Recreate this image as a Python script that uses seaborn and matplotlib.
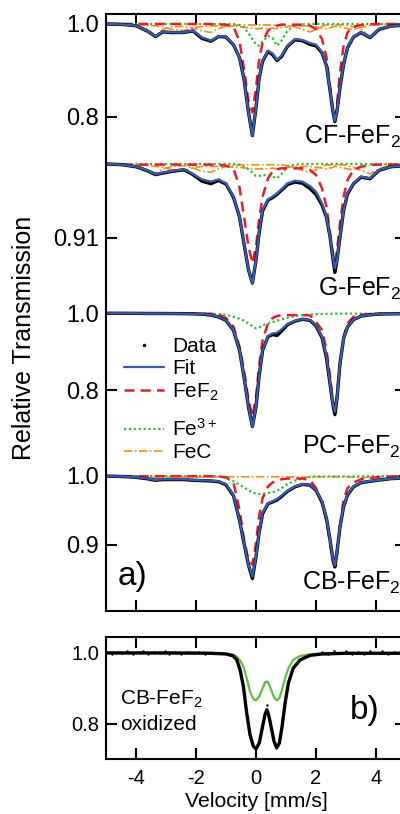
"""Stacked Moessbauer spectra of FeF2 samples (a) and oxidized CB-FeF2 (b)."""
import numpy as np
import pandas as pd
import matplotlib
matplotlib.use('Agg')
import matplotlib.pyplot as plt
from matplotlib.lines import Line2D
import seaborn as sns

# velocity grid used for every trace in panel a) [mm/s]
V = [-5.0, -4.5, -4.0, -3.6, -3.35, -3.1, -2.8, -2.4, -2.1, -1.8, -1.5, -1.25, -1.0,
     -0.75, -0.55, -0.4, -0.25, -0.12, 0.0, 0.1, 0.22, 0.4, 0.55, 0.7, 0.85, 1.05,
     1.3, 1.55, 1.8, 2.0, 2.2, 2.35, 2.47, 2.56, 2.63, 2.7, 2.8, 2.92, 3.05, 3.25,
     3.5, 3.8, 4.1, 4.5, 5.0]

# ---- CF-FeF2
CF_FIT = [1.0, 0.9993, 0.9964, 0.9842, 0.9735, 0.9835, 0.9821, 0.9821, 0.9857, 0.9713,
          0.9642, 0.9735, 0.9728, 0.9556, 0.9283, 0.8817, 0.8100, 0.7598, 0.8208, 0.8817,
          0.9212, 0.9427, 0.9370, 0.9226, 0.9319, 0.9534, 0.9677, 0.9656, 0.9591, 0.9556,
          0.9391, 0.9104, 0.8566, 0.8136, 0.7920, 0.8136, 0.8638, 0.9140, 0.9498, 0.9728,
          0.9821, 0.9713, 0.9892, 0.9957, 0.9978]
CF_DATA = [1.0, 0.9993, 0.9962, 0.9840, 0.9730, 0.9830, 0.9815, 0.9818, 0.9850, 0.9690,
           0.9630, 0.9730, 0.9720, 0.9550, 0.9280, 0.8810, 0.8100, 0.7600, 0.8200, 0.8810,
           0.9200, 0.9410, 0.9340, 0.9215, 0.9300, 0.9520, 0.9660, 0.9640, 0.9560, 0.9530,
           0.9380, 0.9100, 0.8560, 0.8130, 0.7900, 0.8130, 0.8630, 0.9130, 0.9490, 0.9720,
           0.9815, 0.9705, 0.9885, 0.9955, 0.9978]
CF_FEF2 = [1.0, 1.0, 1.0, 1.0, 1.0, 1.0, 1.0, 1.0, 1.0, 1.0, 1.0, 0.9993, 0.9986,
           0.9943, 0.9627, 0.9032, 0.8337, 0.8100, 0.8624, 0.9212, 0.9606, 0.9857, 0.9928,
           0.9964, 0.9986, 0.9986, 0.9986, 0.9986, 0.9964, 0.9892, 0.9677, 0.9283, 0.8638,
           0.8172, 0.7993, 0.8280, 0.8961, 0.9534, 0.9821, 0.9943, 0.9978, 0.9993, 1.0,
           1.0, 1.0]
CF_FE3 = [1.0, 1.0, 1.0, 1.0, 1.0, 1.0, 1.0, 1.0, 1.0, 1.0, 1.0, 1.0, 1.0, 1.0,
          0.9978, 0.9928, 0.9800, 0.9677, 0.9556, 0.9534, 0.9627, 0.9742, 0.9699, 0.9534,
          0.9642, 0.9857, 0.9957, 0.9993, 1.0, 1.0, 1.0, 1.0, 1.0, 1.0, 1.0, 1.0, 1.0,
          1.0, 1.0, 1.0, 1.0, 1.0, 1.0, 1.0, 1.0]
CF_FEC1 = [1.0, 0.999, 0.997, 0.988, 0.974, 0.989, 0.994, 0.995, 0.991, 0.985, 0.982,
           0.990, 0.995, 0.997, 0.998, 0.998, 0.998, 0.998, 0.998, 0.998, 0.998, 0.998,
           0.998, 0.998, 0.998, 0.997, 0.994, 0.988, 0.983, 0.988, 0.995, 0.998, 0.998,
           0.998, 0.998, 0.998, 0.998, 0.998, 0.997, 0.994, 0.988, 0.973, 0.990, 0.998, 1.0]
CF_FEC2 = [1.0, 1.0, 0.999, 0.997, 0.996, 0.994, 0.988, 0.986, 0.992, 0.995, 0.996,
           0.996, 0.996, 0.995, 0.994, 0.993, 0.992, 0.991, 0.990, 0.990, 0.991, 0.990,
           0.991, 0.990, 0.992, 0.994, 0.996, 0.996, 0.995, 0.994, 0.991, 0.990, 0.992,
           0.994, 0.995, 0.995, 0.994, 0.992, 0.990, 0.988, 0.993, 0.997, 0.999, 1.0, 1.0]

# ---- G-FeF2
G_FIT = [1.0, 0.9992, 0.9968, 0.9919, 0.9874, 0.9895, 0.9915, 0.9935, 0.9878, 0.9813,
         0.9785, 0.9813, 0.9765, 0.9602, 0.9359, 0.9035, 0.8711, 0.8548, 0.8832, 0.9157,
         0.9440, 0.9570, 0.9602, 0.9643, 0.9692, 0.9765, 0.9797, 0.9785, 0.9732, 0.9663,
         0.9521, 0.9359, 0.9116, 0.8872, 0.8730, 0.8832, 0.9116, 0.9440, 0.9643, 0.9765,
         0.9846, 0.9826, 0.9927, 0.9968, 0.9980]
G_DATA = [1.0, 0.9992, 0.9966, 0.9915, 0.9870, 0.9890, 0.9910, 0.9930, 0.9870, 0.9790,
          0.9760, 0.9800, 0.9755, 0.9595, 0.9355, 0.9030, 0.8710, 0.8550, 0.8830, 0.9150,
          0.9430, 0.9560, 0.9590, 0.9630, 0.9680, 0.9750, 0.9780, 0.9765, 0.9700, 0.9630,
          0.9500, 0.9350, 0.9110, 0.8860, 0.8680, 0.8830, 0.9110, 0.9435, 0.9635, 0.9760,
          0.9840, 0.9820, 0.9922, 0.9966, 0.9980]
G_FEF2 = [1.0, 0.9992, 0.9992, 0.9992, 0.9992, 0.9992, 0.9992, 0.9992, 0.9992, 0.9992,
          0.9992, 0.9988, 0.9980, 0.9947, 0.9716, 0.9359, 0.8994, 0.8791, 0.8994, 0.9319,
          0.9602, 0.9825, 0.9907, 0.9935, 0.9947, 0.9947, 0.9947, 0.9947, 0.9927, 0.9866,
          0.9704, 0.9480, 0.9157, 0.8913, 0.8811, 0.8953, 0.9278, 0.9602, 0.9805, 0.9927,
          0.9968, 0.9988, 0.9992, 0.9992, 1.0]
G_FE3 = [1.0, 1.0, 1.0, 1.0, 1.0, 1.0, 1.0, 1.0, 1.0, 1.0, 1.0, 1.0, 1.0, 1.0,
         0.9992, 0.9968, 0.9935, 0.9895, 0.9854, 0.9854, 0.9866, 0.9862, 0.9846, 0.9826,
         0.9878, 0.9968, 0.9992, 1.0, 1.0, 1.0, 1.0, 1.0, 1.0, 1.0, 1.0, 1.0, 1.0, 1.0,
         1.0, 1.0, 1.0, 1.0, 1.0, 1.0, 1.0]
G_FEC1 = [1.0, 0.9995, 0.998, 0.993, 0.989, 0.994, 0.997, 0.998, 0.995, 0.991, 0.990,
          0.994, 0.997, 0.998, 0.999, 0.999, 0.999, 0.999, 0.999, 0.999, 0.999, 0.999,
          0.999, 0.999, 0.999, 0.998, 0.996, 0.992, 0.990, 0.993, 0.997, 0.999, 0.999,
          0.999, 0.999, 0.999, 0.999, 0.999, 0.998, 0.996, 0.992, 0.988, 0.994, 0.999, 1.0]
G_FEC2 = [1.0, 1.0, 0.9995, 0.998, 0.997, 0.996, 0.993, 0.992, 0.995, 0.997, 0.997,
          0.997, 0.997, 0.996, 0.996, 0.995, 0.995, 0.994, 0.994, 0.994, 0.994, 0.994,
          0.995, 0.994, 0.995, 0.996, 0.997, 0.997, 0.997, 0.996, 0.995, 0.994, 0.995,
          0.996, 0.997, 0.997, 0.996, 0.995, 0.994, 0.993, 0.996, 0.998, 0.999, 1.0, 1.0]

# ---- PC-FeF2
PC_FIT = [0.9995, 0.9995, 0.9993, 0.9990, 0.9990, 0.9990, 0.9988, 0.9985, 0.9980, 0.9974,
          0.9948, 0.9905, 0.9818, 0.9558, 0.9039, 0.8346, 0.7567, 0.7047, 0.7567, 0.8346,
          0.9039, 0.9403, 0.9472, 0.9489, 0.9576, 0.9714, 0.9801, 0.9844, 0.9818, 0.9688,
          0.9385, 0.8866, 0.8173, 0.7653, 0.7437, 0.7784, 0.8693, 0.9342, 0.9645, 0.9835,
          0.9922, 0.9957, 0.9974, 0.9980, 0.9985]
PC_DATA = [0.9995, 0.9995, 0.9993, 0.9990, 0.9990, 0.9990, 0.9988, 0.9985, 0.9980, 0.9972,
           0.9945, 0.9900, 0.9810, 0.9550, 0.9035, 0.8340, 0.7560, 0.7050, 0.7560, 0.8340,
           0.9030, 0.9390, 0.9440, 0.9420, 0.9530, 0.9700, 0.9790, 0.9840, 0.9810, 0.9670,
           0.9360, 0.8830, 0.8150, 0.7640, 0.7360, 0.7780, 0.8690, 0.9340, 0.9640, 0.9830,
           0.9920, 0.9955, 0.9974, 0.9980, 0.9985]
PC_FEF2 = [0.9995, 0.9995, 0.9995, 0.9995, 0.9995, 0.9995, 0.9995, 0.9995, 0.9990, 0.9985,
           0.9980, 0.9974, 0.9870, 0.9645, 0.9126, 0.8520, 0.7740, 0.7307, 0.7827, 0.8606,
           0.9299, 0.9732, 0.9870, 0.9922, 0.9948, 0.9948, 0.9948, 0.9948, 0.9940, 0.9775,
           0.9558, 0.9039, 0.8346, 0.7740, 0.7480, 0.7827, 0.8693, 0.9385, 0.9732, 0.9905,
           0.9957, 0.9970, 0.9980, 0.9985, 0.9990]
PC_FE3 = [0.9995, 0.9995, 0.9995, 0.9995, 0.9995, 0.9995, 0.9995, 0.9995, 0.9990, 0.9985,
          0.9980, 0.9974, 0.9957, 0.9905, 0.9853, 0.9801, 0.9730, 0.9662, 0.9602, 0.9620,
          0.9680, 0.9730, 0.9766, 0.9801, 0.9835, 0.9879, 0.9922, 0.9948, 0.9965, 0.9970,
          0.9975, 0.9980, 0.9980, 0.9985, 0.9985, 0.9985, 0.9985, 0.9985, 0.9985, 0.9985,
          0.9985, 0.9985, 0.9990, 0.9990, 0.9990]

# ---- CB-FeF2
CB_FIT = [0.9995, 0.9990, 0.9980, 0.9960, 0.9940, 0.9950, 0.9950, 0.9950, 0.9940, 0.9935,
          0.9930, 0.9920, 0.9880, 0.9720, 0.9360, 0.9024, 0.8710, 0.8541, 0.8831, 0.9169,
          0.9459, 0.9604, 0.9628, 0.9662, 0.9710, 0.9783, 0.9845, 0.9879, 0.9870, 0.9797,
          0.9628, 0.9386, 0.9072, 0.8807, 0.8696, 0.8903, 0.9266, 0.9556, 0.9725, 0.9845,
          0.9903, 0.9923, 0.9940, 0.9960, 0.9970]
CB_DATA = [0.9995, 0.9990, 0.9978, 0.9955, 0.9935, 0.9945, 0.9945, 0.9945, 0.9935, 0.9930,
           0.9925, 0.9915, 0.9870, 0.9710, 0.9355, 0.9020, 0.8705, 0.8510, 0.8825, 0.9165,
           0.9450, 0.9595, 0.9620, 0.9650, 0.9700, 0.9775, 0.9840, 0.9875, 0.9865, 0.9790,
           0.9620, 0.9380, 0.9065, 0.8800, 0.8680, 0.8900, 0.9260, 0.9550, 0.9720, 0.9840,
           0.9900, 0.9920, 0.9938, 0.9958, 0.9970]
CB_FEF2 = [0.9995, 0.9995, 0.9995, 0.9995, 0.9995, 0.9995, 0.9995, 0.9995, 0.9995, 0.9995,
           0.9995, 0.9990, 0.9980, 0.9900, 0.9507, 0.9072, 0.8783, 0.8710, 0.9024, 0.9410,
           0.9676, 0.9845, 0.9903, 0.9928, 0.9950, 0.9960, 0.9960, 0.9960, 0.9940, 0.9821,
           0.9604, 0.9338, 0.9024, 0.8759, 0.8676, 0.8855, 0.9266, 0.9650, 0.9821, 0.9903,
           0.9950, 0.9970, 0.9980, 0.9990, 0.9995]
CB_FE3 = [0.9995, 0.9995, 0.9995, 0.9995, 0.9995, 0.9995, 0.9995, 0.9995, 0.9995, 0.9995,
          0.9995, 0.9995, 0.9970, 0.9920, 0.9870, 0.9830, 0.9790, 0.9760, 0.9740, 0.9735,
          0.9740, 0.9750, 0.9760, 0.9780, 0.9820, 0.9880, 0.9930, 0.9960, 0.9985, 0.9990,
          0.9990, 0.9990, 0.9990, 0.9990, 0.9990, 0.9990, 0.9990, 0.9990, 0.9990, 0.9990,
          0.9990, 0.9995, 0.9995, 0.9995, 0.9995]
CB_FEC = [0.9995, 0.9990, 0.9985, 0.9980, 0.9975, 0.9980, 0.9985, 0.9985, 0.9980, 0.9980,
          0.9980, 0.9985, 0.9985, 0.9985, 0.9985, 0.9985, 0.9985, 0.9985, 0.9985, 0.9985,
          0.9985, 0.9985, 0.9985, 0.9985, 0.9985, 0.9985, 0.9985, 0.9980, 0.9980, 0.9985,
          0.9985, 0.9985, 0.9985, 0.9985, 0.9985, 0.9985, 0.9985, 0.9985, 0.9985, 0.9980,
          0.9980, 0.9975, 0.9985, 0.9990, 0.9995]

# ---- panel b) oxidized CB-FeF2
VB = [-5.0, -4.0, -3.0, -2.0, -1.5, -1.0, -0.76, -0.64, -0.53, -0.42, -0.31, -0.2, -0.09,
      0.0, 0.11, 0.22, 0.3, 0.36, 0.42, 0.5, 0.6, 0.69, 0.78, 0.87, 0.97, 1.08, 1.24,
      1.47, 1.8, 2.2, 3.0, 4.0, 5.0]
B_FIT = [1.0, 1.0, 1.0, 0.9995, 0.999, 0.997, 0.9915, 0.9803, 0.9521, 0.9052, 0.830,
         0.769, 0.7361, 0.7286, 0.7455, 0.7925, 0.8254, 0.8394, 0.8254, 0.7925, 0.7502,
         0.7315, 0.7455, 0.7925, 0.8582, 0.9146, 0.9568, 0.9803, 0.993, 0.997, 0.999,
         0.999, 0.999]
B_OX = [0.999, 0.999, 0.999, 0.999, 0.999, 0.998, 0.995, 0.9897, 0.9784, 0.9615, 0.9286,
        0.8911, 0.8695, 0.8657, 0.8770, 0.9005, 0.9164, 0.9192, 0.9146, 0.8970, 0.8751,
        0.8657, 0.8723, 0.8960, 0.9286, 0.9568, 0.9803, 0.9915, 0.996, 0.998, 0.998,
        0.998, 0.998]
B_DATA_V = [-4.95, -4.8, -4.6, -4.45, -4.3, -4.1, -3.9, -3.75, -3.6, -3.4, -3.2, -3.05,
            -2.9, -2.7, -2.5, -2.3, -2.1, -1.9, -1.7, 0.36, 2.2, 2.4, 2.6, 2.8, 3.0, 3.2,
            3.4, 3.6, 3.8, 4.0, 4.2, 4.4, 4.6, 4.8]
B_DATA = [1.002, 0.998, 1.003, 0.999, 1.004, 0.997, 1.002, 1.005, 0.998, 1.003, 0.999,
          1.004, 0.997, 1.002, 0.998, 1.003, 0.999, 1.002, 0.998, 0.852, 1.003, 0.997,
          1.004, 0.999, 1.005, 0.998, 1.003, 0.997, 1.004, 1.000, 1.005, 0.998, 1.003, 1.001]

PANELS = [
    ('CF', CF_DATA, CF_FIT, CF_FEF2, CF_FE3, [CF_FEC1, CF_FEC2]),
    ('G', G_DATA, G_FIT, G_FEF2, G_FE3, [G_FEC1, G_FEC2]),
    ('PC', PC_DATA, PC_FIT, PC_FEF2, PC_FE3, []),
    ('CB', CB_DATA, CB_FIT, CB_FEF2, CB_FE3, [CB_FEC]),
]
YLIMS = [(0.729, 1.0215), (0.8345, 1.017), (0.613, 1.034), (0.804, 1.020)]
YTICKS = [[0.8, 1.0], [0.91], [0.8, 1.0], [0.9, 1.0]]
YTICKLABELS = [['0.8', '1.0'], ['0.91'], ['0.8', '1.0'], ['0.9', '1.0']]

BLUE = '#3a5bb4'
RED = '#e0202c'
GREEN = '#33bb33'
ORANGE = '#ff8a1e'
GREEN_B = '#66bb44'
LS_FEF2 = (0, (4, 2.5))
LS_FE3 = (0, (1, 1.2))
LS_FEC = (0, (5, 1.5, 1, 1.5))

sns.set_theme(style='ticks')
plt.rcParams['font.family'] = ['Liberation Sans', 'DejaVu Sans']
plt.rcParams['mathtext.default'] = 'regular'
plt.rcParams['axes.linewidth'] = 1.5
plt.rcParams['axes.unicode_minus'] = False
for key in ['text.color', 'axes.edgecolor', 'axes.labelcolor', 'xtick.color', 'ytick.color']:
    plt.rcParams[key] = 'black'

W, H = 400, 814
fig = plt.figure(figsize=(W / 100, H / 100), dpi=100)
left, width = 106 / W, 300 / W
bounds = [(14, 150), (150, 300), (300, 462), (462, 611)]

axes = []
for i, (top, bot) in enumerate(bounds):
    ax = fig.add_axes([left, 1 - bot / H, width, (bot - top) / H])
    axes.append(ax)
    name, data, fit, fef2, fe3, fecs = PANELS[i]
    df = pd.DataFrame({'v': V, 'data': data, 'fit': fit, 'fef2': fef2, 'fe3': fe3})
    for fec in fecs:
        sns.lineplot(x=V, y=fec, ax=ax, color=ORANGE, lw=1.2, linestyle=LS_FEC)
    sns.lineplot(data=df, x='v', y='fe3', ax=ax, color=GREEN, lw=1.6, linestyle=LS_FE3)
    sns.lineplot(data=df, x='v', y='fef2', ax=ax, color=RED, lw=1.8, linestyle=LS_FEF2)
    sns.lineplot(data=df, x='v', y='data', ax=ax, color='black', lw=2.4)
    sns.lineplot(data=df, x='v', y='fit', ax=ax, color=BLUE, lw=1.6)
    ax.set_xlim(-5, 5)
    ax.set_ylim(*YLIMS[i])
    ax.set_xticks([-4, -2, 0, 2, 4])
    ax.set_yticks(YTICKS[i])
    ax.set_yticklabels(YTICKLABELS[i])
    ax.set_xlabel('')
    ax.set_ylabel('')
    ax.tick_params(direction='in', length=8, width=1.5, labelsize=17, pad=5,
                   left=True, right=True, top=(i == 0), bottom=(i == 3),
                   labelbottom=False)
    if i > 0:
        ax.spines['top'].set_visible(False)
    if i < 3:
        ax.spines['bottom'].set_visible(False)
    ax.patch.set_alpha(0)

# sample names
for name, yc in [('CF', 137), ('G', 289), ('PC', 447), ('CB', 583)]:
    fig.text(401 / W, 1 - yc / H, f'{name}-FeF$_2$', ha='right', va='center', fontsize=18)

# legend inside PC panel, in two blocks like the original
leg_kw = dict(frameon=False, fontsize=15, handlelength=1.9, handletextpad=0.4,
              labelspacing=0.15, borderpad=0, borderaxespad=0, loc='upper left')
h1 = [Line2D([], [], color='black', marker='.', ms=3, lw=0),
      Line2D([], [], color=BLUE, lw=1.6),
      Line2D([], [], color=RED, lw=1.8, linestyle=LS_FEF2)]
h2 = [Line2D([], [], color=GREEN, lw=1.6, linestyle=LS_FE3),
      Line2D([], [], color=ORANGE, lw=1.2, linestyle=LS_FEC)]
leg1 = axes[2].legend(h1, ['Data', 'Fit', 'FeF$_2$'], bbox_to_anchor=(0.06, 0.77), **leg_kw)
axes[2].add_artist(leg1)
axes[2].legend(h2, ['Fe$^{3+}$', 'FeC'], bbox_to_anchor=(0.06, 0.27), **leg_kw)

fig.text(118 / W, 1 - 576 / H, 'a)', ha='left', va='center', fontsize=24)
fig.text(24 / W, 1 - 338 / H, 'Relative Transmission', rotation=90,
         ha='center', va='center', fontsize=18)

# panel b
axb = fig.add_axes([left, 1 - 759 / H, width, 122 / H])
sns.scatterplot(x=B_DATA_V, y=B_DATA, ax=axb, color='black', s=3, linewidth=0)
sns.lineplot(x=VB, y=B_OX, ax=axb, color=GREEN_B, lw=1.6)
sns.lineplot(x=VB, y=B_FIT, ax=axb, color='black', lw=2.4)
axb.set_xlim(-5, 5)
axb.set_ylim(0.70, 1.045)
axb.set_xticks([-4, -2, 0, 2, 4])
axb.set_yticks([0.8, 1.0])
axb.set_yticklabels(['0.8', '1.0'])
axb.tick_params(direction='in', length=8, width=1.5, labelsize=14.5, pad=5,
                left=True, right=True, top=True, bottom=True)
axb.tick_params(axis='x', pad=7)
axb.set_xlabel('Velocity [mm/s]', fontsize=15.3, labelpad=3)
axb.set_ylabel('')
fig.text(120 / W, 1 - 699 / H, 'CB-FeF$_2$', ha='left', va='center', fontsize=15)
fig.text(120 / W, 1 - 725 / H, 'oxidized', ha='left', va='center', fontsize=15)
fig.text(350 / W, 1 - 711 / H, 'b)', ha='left', va='center', fontsize=24)

fig.savefig('out.png', dpi=100)
